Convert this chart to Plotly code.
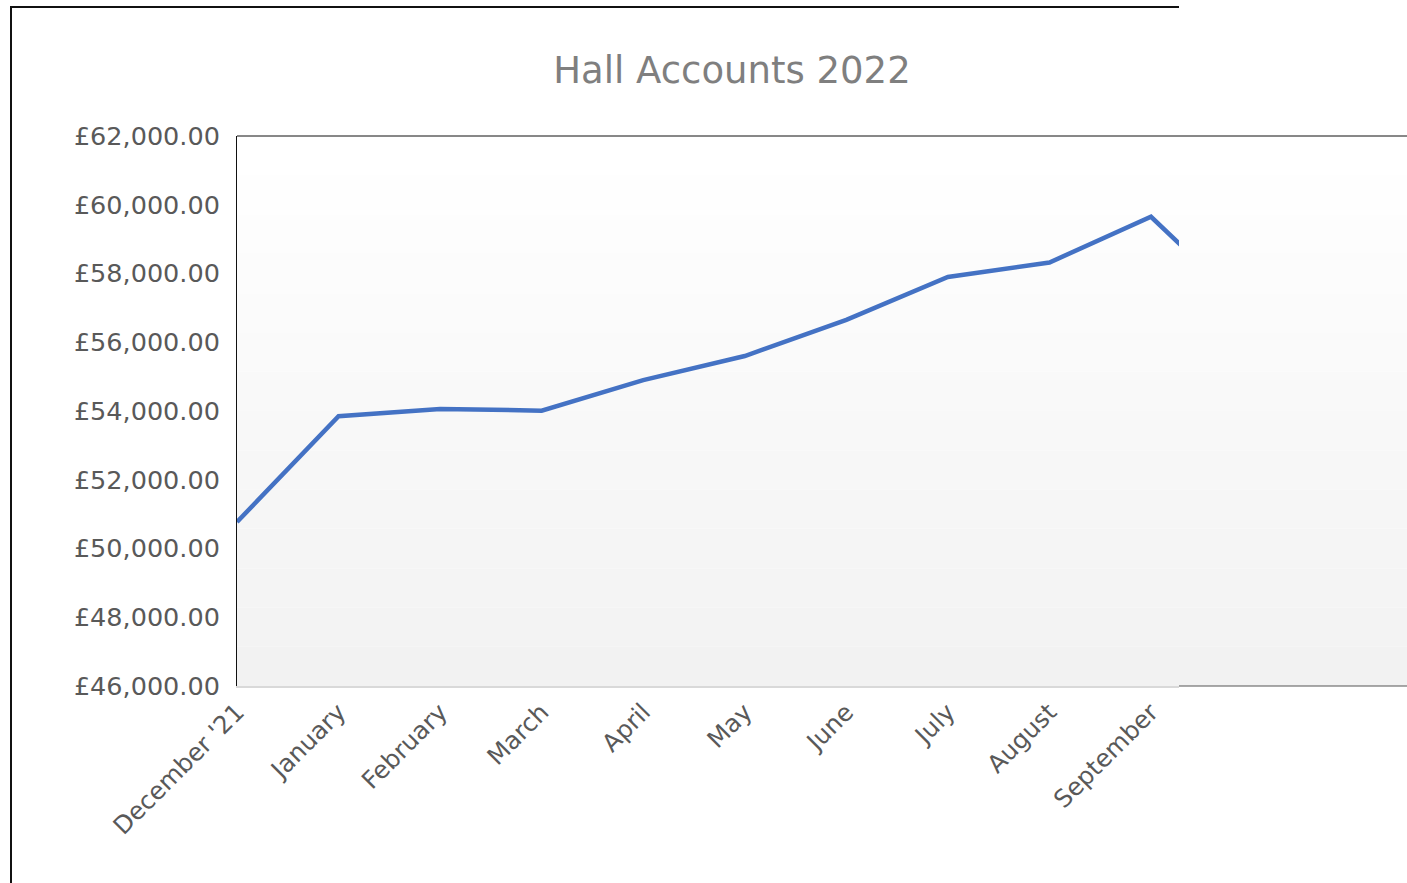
import plotly.graph_objects as go

months = ["December '21", "January", "February", "March", "April", "May",
          "June", "July", "August", "September", "October"]
balance = [50770, 53850, 54060, 54010, 54900, 55600, 56650, 57900, 58320, 59650, 56850]

title_text = "Hall Accounts 2022"
y_ticks = [46000, 48000, 50000, 52000, 54000, 56000, 58000, 60000, 62000]
y_labels = ["£46,000.00", "£48,000.00", "£50,000.00", "£52,000.00", "£54,000.00",
            "£56,000.00", "£58,000.00", "£60,000.00", "£62,000.00"]

W, H = 1407, 883
L, R, T, B = 237, 1179, 136, 686  # plot area in px
EXT_R = W                          # plot-area extension beyond clip


def px_x(p):
    return (p - L) / (R - L)


def px_y(p):
    return 1 - (p - T) / (B - T)


fig = go.Figure()
fig.add_trace(go.Scatter(
    x=list(range(len(months))), y=balance, mode="lines",
    line=dict(color="#4472c4", width=4.5), hoverinfo="skip",
))

shapes = []
n = 14
for i in range(n):
    c = round(255 - (255 - 242) * (i + 0.5) / n)
    y0 = T + (B - T) * i / n
    y1 = T + (B - T) * (i + 1) / n
    shapes.append(dict(type="rect", xref="paper", yref="paper", layer="below",
                       x0=px_x(L), x1=px_x(EXT_R + 2), y0=px_y(y1), y1=px_y(y0),
                       fillcolor=f"rgb({c},{c},{c})", line=dict(width=0)))
shapes.append(dict(type="line", xref="paper", yref="paper", layer="above",
                   x0=px_x(L), x1=px_x(EXT_R + 2), y0=px_y(T), y1=px_y(T),
                   line=dict(color="#111111", width=1)))
shapes.append(dict(type="line", xref="paper", yref="paper", layer="above",
                   x0=px_x(R), x1=px_x(EXT_R + 2), y0=px_y(B), y1=px_y(B),
                   line=dict(color="#555555", width=1.2)))
# outer chart frame (clipped at R)
shapes.append(dict(type="line", xref="paper", yref="paper", layer="above",
                   x0=px_x(10), x1=px_x(R), y0=px_y(7), y1=px_y(7),
                   line=dict(color="#111111", width=2)))
shapes.append(dict(type="line", xref="paper", yref="paper", layer="above",
                   x0=px_x(11), x1=px_x(11), y0=px_y(6), y1=px_y(H + 5),
                   line=dict(color="#111111", width=2)))

fig.update_layout(
    width=W, height=H,
    margin=dict(l=L, r=W - R, t=T, b=H - B, pad=0, autoexpand=False),
    paper_bgcolor="white", plot_bgcolor="rgba(0,0,0,0)",
    showlegend=False,
    font=dict(family="DejaVu Sans", color="#595959", size=24),
    title=dict(text=title_text, x=732 / W, xanchor="center", xref="container",
               y=1 - 70 / H, yanchor="middle", yref="container",
               font=dict(family="DejaVu Sans", size=37, color="#7f7f7f")),
    shapes=shapes,
)
fig.update_xaxes(
    range=[0, (R - L) / ((1151 - 237) / 9)],
    tickmode="array", tickvals=list(range(len(months))), ticktext=months,
    tickangle=-45, showgrid=False, zeroline=False,
    showline=True, linecolor="#d9d9d9", linewidth=2,
    ticks="", ticklabelstandoff=0,
    tickfont=dict(size=24.5, color="#595959"),
)
fig.update_yaxes(
    range=[46000, 62000], tickmode="array", tickvals=y_ticks, ticktext=y_labels,
    showgrid=False, zeroline=False,
    showline=True, linecolor="#111111", linewidth=1,
    ticks="", ticklabelstandoff=11,
    tickfont=dict(size=25.5, color="#595959"),
)

fig.write_html(
    "out.html",
    config={"displayModeBar": False},
    post_script="document.body.style.margin='0';document.body.style.overflow='hidden';",
)
